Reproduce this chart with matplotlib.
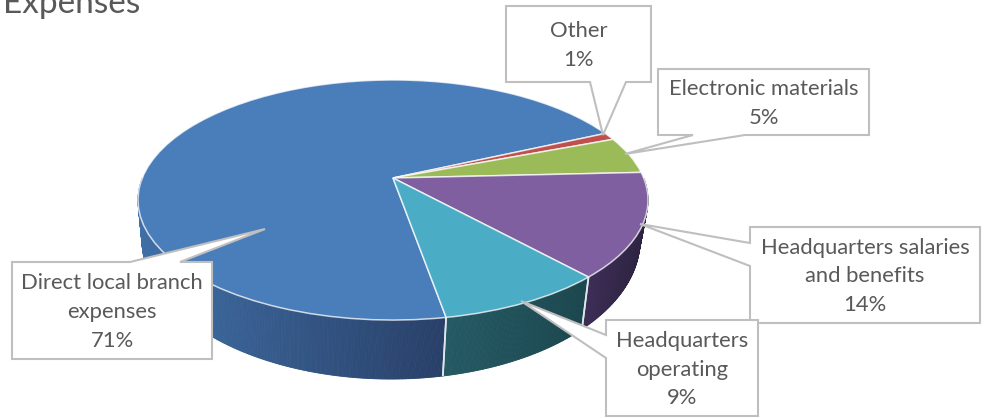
import numpy as np
import matplotlib
matplotlib.use("Agg")
import matplotlib.pyplot as plt
import matplotlib.transforms as mtransforms
from matplotlib.collections import PolyCollection
from matplotlib.colors import to_rgb
from matplotlib.patches import Polygon

# ---- data ----
title = "Expenses"
categories = ["Direct local branch\nexpenses", "Other", "Electronic materials",
              "Headquarters salaries\nand benefits", "Headquarters\noperating"]
values = [71, 1, 5, 14, 9]
top_colors = ["#4a7ebb", "#c0504d", "#9bbb59", "#7f5f9f", "#4bacc6"]
wall_left = ["#3f6fa6", "#8f3a38", "#6f8a3f", "#3d2e56", "#245a64"]
wall_right = ["#283f68", "#8f3a38", "#6f8a3f", "#2d2340", "#1b464e"]
# label boxes: left, top, right, bottom, tip x, tip y, and leader base points
boxes = [
    (12, 262, 212, 359, 265, 229, [(130, 262), (180, 262)]),
    (506, 6, 651, 82, 603, 135, [(590, 82), (626, 82)]),
    (658, 69, 869, 135, 625, 154, [(693, 135), (745, 135)]),
    (750, 227, 980, 323, 640, 224, [(750, 243), (750, 266)]),
    (606, 320, 758, 416, 521, 301, [(606, 335), (606, 358)]),
]
start_angle = -80

# ---- geometry of the tilted pie, in figure pixels ----
APEX_X, APEX_Y = 393.0, 178.0
A, B, K = 250.7, 116.0, 0.1833
TOP_C = (393.0, 200.0)
BOT_C = (391.0, 240.0)
SX, SY = 249.0 / 255.0, 139.0 / 120.0


class Persp(mtransforms.Transform):
    input_dims = 2
    output_dims = 2
    is_separable = False
    has_inverse = False

    def transform_non_affine(self, xy):
        xy = np.asarray(xy, dtype=float)
        w = 1 + K * xy[:, 1]
        return np.column_stack((APEX_X + A * xy[:, 0] / w, APEX_Y - B * xy[:, 1] / w))


persp = Persp()


def rim_top(theta_deg):
    t = np.radians(theta_deg)
    return persp.transform_non_affine(np.column_stack((np.cos(t), np.sin(t))))


def rim_bot(top):
    return np.column_stack((BOT_C[0] + (top[:, 0] - TOP_C[0]) * SX,
                            BOT_C[1] + (top[:, 1] - TOP_C[1]) * SY))


plt.rcParams["font.family"] = ["Lato", "DejaVu Sans"]
fig = plt.figure(figsize=(9.84, 4.18), dpi=100, facecolor="white")
ax = fig.add_axes([0, 0, 1, 1])

wedges, _ = ax.pie(values, startangle=start_angle, counterclock=False, colors=top_colors,
                   radius=1, wedgeprops=dict(edgecolor=(1, 1, 1, 0.75), linewidth=1.1))
for w in wedges:
    w.set_transform(persp + ax.transData)
    w.set_zorder(3)
    w.set_clip_on(False)

# side wall, from the same angles as the wedges
total = sum(values)
angle = start_angle
for val, cl, cr in zip(values, wall_left, wall_right):
    a0 = angle
    a1 = angle - 360.0 * val / total
    angle = a1
    th = np.linspace(a0, a1, max(int(abs(a1 - a0)) * 3, 4))
    top = rim_top(th)
    bot = rim_bot(top)
    keep = np.sin(np.radians(th)) < 0.0
    polys, cols = [], []
    xvis = top[keep, 0]
    if len(xvis) < 2:
        continue
    xmin, xmax = xvis.min(), xvis.max()
    for i in range(len(th) - 1):
        if not (keep[i] and keep[i + 1]):
            continue
        polys.append([top[i], top[i + 1], bot[i + 1], bot[i]])
        f = (0.5 * (top[i, 0] + top[i + 1, 0]) - xmin) / max(xmax - xmin, 1)
        cols.append(tuple((1 - f) * np.array(to_rgb(cl)) + f * np.array(to_rgb(cr))))
    ax.add_collection(PolyCollection(polys, facecolors=cols, edgecolors=cols,
                                     linewidths=0.6, zorder=1))
    # light seam at the slice boundaries that face the viewer
    for th_s in (a0, a1):
        if np.sin(np.radians(th_s)) < -0.3:
            s_top = rim_top(np.array([th_s]))
            s_bot = rim_bot(s_top)
            ax.plot([s_top[0, 0], s_bot[0, 0]], [s_top[0, 1], s_bot[0, 1]],
                    color="#dfe6ee", lw=1.2, zorder=2, solid_capstyle="butt")

# call-out labels
for cat, val, (l, t, r, b, tx, ty, base) in zip(categories, values, boxes):
    (b0x, b0y), (b1x, b1y) = base
    if b0y == b and b1y == b:        # leader leaves the bottom edge
        pts = [(l, t), (r, t), (r, b), (b1x, b1y), (tx, ty), (b0x, b0y), (l, b)]
    elif b0y == t and b1y == t:      # leader leaves the top edge
        pts = [(l, t), (b0x, b0y), (tx, ty), (b1x, b1y), (r, t), (r, b), (l, b)]
    else:                            # leader leaves the left edge
        pts = [(l, t), (r, t), (r, b), (l, b), (b1x, b1y), (tx, ty), (b0x, b0y)]
    ax.add_patch(Polygon(pts, closed=True, facecolor="white", edgecolor="#bfbfbf",
                         linewidth=1.5, zorder=5, joinstyle="miter"))
    ax.text((l + r) / 2, (t + b) / 2 + 1.5, f"{cat}\n{val}%", ha="center", va="center",
            multialignment="center", fontsize=15.8, color="#595959", linespacing=1.55, zorder=6)

ax.text(3, 13, title, ha="left", va="baseline", fontsize=24, color="#595959", zorder=6, clip_on=False)

ax.set_aspect("auto")
ax.set_xlim(0, 984)
ax.set_ylim(418, 0)
ax.axis("off")

fig.savefig("out.png", dpi=100, facecolor="white")
